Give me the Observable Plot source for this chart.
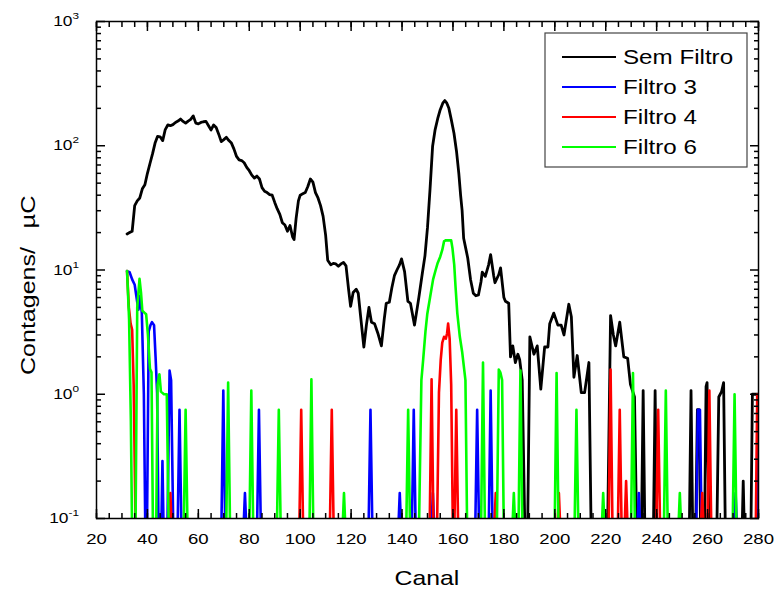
<!DOCTYPE html>
<html><head><meta charset="utf-8">
<script src="https://cdn.jsdelivr.net/npm/d3@7"></script>
<script src="https://cdn.jsdelivr.net/npm/@observablehq/plot@0.6"></script>
<style>body{margin:0;background:#fff}#chart svg{display:block}</style>
</head><body><div id="chart"></div>
<script>
const seriesNames = ["Sem Filtro", "Filtro 3", "Filtro 4", "Filtro 6"];
const seriesColors = ["#000000", "#0000ff", "#ff0000", "#00ff00"];
const xMajorTicks = [20, 40, 60, 80, 100, 120, 140, 160, 180, 200, 220, 240, 260, 280];
const xTickLabels = ["20", "40", "60", "80", "100", "120", "140", "160", "180", "200", "220", "240", "260", "280"];
const yDecadeExponents = [-1, 0, 1, 2, 3];
const yTitle = ["Contagens/", "\u00b5C"];
const xTitle = "Canal";

// [canal, contagens/µC] ; 0 = no counts (below the log axis)
const semFiltro = [[32,19.5],[33,20],[34,20.5],[35,33],[36,36],[37,38],[38,45],[39,48.5],[40,60],[41,72],[42,86],[43,105],[44,119],[45,118],[46,110],[47,135],[48,147],[49,145],[50,148],[51,154],[52,158],[53,164],[54,157],[55,152],[56,158],[57,163],[58,174],[59,152],[60,150],[61,154],[62,156],[63,157],[64,145],[65,134],[66,147],[67,140],[68,124],[69,108],[70,112],[71,117],[72,110],[73,105],[74,94],[75,82],[76,77],[77,76],[78,73],[79,67],[80,63],[81,58],[82,55],[83,57],[84,54],[85,46],[86,43],[87,42],[88,40.5],[89,40],[90,35],[91,31],[92,28],[93,24],[94,23],[95,20.5],[96,22.8],[97,18.5],[97.6,17.6],[98.4,26],[99.3,36],[100,40],[101,41],[102,42],[103,47],[104,54],[105,51],[106,42],[107,38],[108,33],[109,27],[110,19],[110.8,12],[112,11],[113,11.3],[114,11.2],[115,10.7],[116,11.2],[117,11.5],[118,10.8],[119,7],[119.8,5.1],[120.8,6.6],[122,7],[122.8,6.5],[123.7,4.3],[125,2.4],[126,3.6],[127,5],[128,3.8],[129.2,3.7],[130.5,3.1],[131.9,2.45],[133,4],[133.8,5.4],[135,5.5],[136,7.2],[137,9],[138,10],[139,11],[139.8,12.3],[141,9.7],[142.3,5.6],[143.3,5.4],[144.9,3.6],[146,5],[146.6,6],[148,9.5],[149,13],[150,22],[151,45],[152,99],[153,135],[154,165],[155,195],[156,220],[156.8,231],[157.6,220],[158.4,200],[159.4,160],[160.4,126],[161.4,90],[162.3,60],[163,40],[163.6,30],[164.2,18],[165,15],[165.8,12.5],[166.9,8.4],[168,6.5],[169,6.2],[170,6.3],[171,8],[171.5,9.6],[172.7,8.9],[174,11],[174.8,13.3],[176,9],[176.5,7.9],[178,9.2],[178.7,10.4],[180,6],[180.6,5.6],[181.9,5.4],[182.6,2.0],[183.5,2.45],[184.5,1.8],[185.5,2.1],[186.2,1.9],[187.2,1.3],[188.3,0],[189.3,0],[190.2,2.9],[191.8,2.1],[193.1,2.45],[194.5,1.1],[196,2.4],[197.3,2.4],[198,3.7],[199.6,4.5],[201.2,3.6],[202.5,3.6],[203.6,3.0],[205.5,5.3],[206.5,4.2],[207.5,1.37],[208.8,2.05],[210.4,1.03],[211.7,1.03],[213.4,1.8],[214.3,0],[220.7,0],[221.9,4.3],[223,3.0],[223.9,2.45],[225.5,3.8],[227.1,2.0],[228.6,1.95],[229.7,1.2],[231.3,0.95],[232.2,0],[234,0],[234.7,1.07],[235.4,0],[238.7,0],[239.4,1.07],[240.1,0],[252.8,0],[253.5,1.07],[254.2,0],[255.3,0],[256,0.75],[256.6,0.75],[257.3,0],[258.8,0],[259.4,1.15],[259.8,1.24],[260.6,0],[263.6,0],[264.4,0.95],[265.5,1.05],[266.3,1.24],[267,0],[273.5,0],[274,0.2],[274.5,0],[277,0],[277.6,1.0],[280,1.0]];

const filtro3 = [[32,9.8],[33,9.6],[34,8.4],[35,7.6],[36,5.5],[36.5,4.8],[37.1,6.2],[37.8,4.5],[38.6,1],[39.2,0],[39.8,0],[40.5,3.2],[41.2,3.6],[41.8,3.8],[42.6,3.6],[43.2,2],[43.8,1.03],[44.4,0],[45.4,0],[45.9,0.29],[46.4,0],[47.8,0],[48.7,1.55],[49.3,1.3],[50.2,0],[51.8,0],[52.6,0.75],[53.4,0],[69,0],[69.8,1.07],[70.6,0],[77.6,0],[78.3,0.16],[79,0],[83,0],[83.8,0.75],[84.6,0],[126.8,0],[127.6,0.75],[128.4,0],[138.4,0],[139.1,0.16],[139.8,0],[143.8,0],[144.6,0.75],[145.4,0],[151.4,0],[152.1,0.16],[152.8,0],[168.7,0],[169.5,0.75],[170.3,0],[174,0],[174.8,1.07],[175.6,0],[232.3,0],[233,0.16],[233.7,0],[255.5,0],[256.2,0.75],[257,0.75],[257.7,0],[270.3,0],[271,0.16],[271.7,0],[279.2,0],[279.8,1.0],[280,1.0]];

const filtro4 = [[32,9.8],[32.7,5],[33.4,3.7],[34,3.3],[34.6,1.2],[35.4,0],[48.3,0],[49,0.16],[49.7,0],[99.6,0],[100.4,0.75],[101.2,0],[111.6,0],[112.4,0.75],[113.2,0],[150.8,0],[151.6,1.32],[152.4,0],[153.7,0],[154.5,1.03],[155.2,1.9],[155.8,2.6],[156.5,2.9],[157.2,2.8],[157.7,3.1],[158.1,3.7],[158.7,2.8],[159.3,1.2],[160,0],[160.5,0],[161.3,0.75],[162.1,0],[176.1,0],[176.8,0.16],[177.5,0],[200.9,0],[201.6,0.16],[202.3,0],[221.1,0],[221.9,1.58],[222.7,0],[224.7,0],[225.5,0.75],[226.3,0],[227.3,0],[228,0.2],[228.7,0],[239.8,0],[240.6,0.75],[241.4,0],[257.2,0],[257.9,0.16],[258.6,0],[259.9,0],[260.7,1.07],[261.5,0],[278.9,0],[279.5,1.0],[280,1.0]];

const filtro6 = [[32,9.8],[32.8,4],[33.5,0.6],[34,0],[35.3,0],[36,5],[36.9,8.5],[37.5,6.5],[38,4.7],[39,4.5],[39.5,4.4],[40.2,3],[41,1.6],[41.6,1.5],[42.2,0],[43.4,0],[44,1.2],[44.7,1.45],[45.3,1.05],[46.5,1.0],[47.6,1.0],[48.4,0],[54.2,0],[55,0.75],[55.8,0],[70.9,0],[71.7,1.24],[72.5,0],[80,0],[80.8,1.07],[81.6,0],[90.8,0],[91.6,0.75],[92.4,0],[103.6,0],[104.4,1.32],[105.2,0],[116.5,0],[117.2,0.16],[117.9,0],[141.6,0],[142.4,0.75],[143.2,0],[146.6,0],[147.6,1.3],[148.3,1.9],[149.2,3.2],[149.9,4.4],[151,6],[152.2,8.4],[153.2,10],[154,11.4],[155,12.8],[155.8,14.5],[156.5,17],[157,17.3],[159.3,17.3],[159.8,15],[160.5,11],[161,7.4],[161.7,4.5],[162.7,2.9],[163.6,2.2],[164.9,1.3],[165.6,0],[171,0],[171.8,1.8],[172.6,0],[177.2,0],[178,1.58],[178.6,1.5],[179.3,1.3],[180,0],[183.2,0],[183.9,0.16],[184.6,0],[185.7,0],[186.5,1.55],[187.3,0],[199.9,0],[200.7,1.48],[201.5,0],[207.7,0],[208.5,0.75],[209.3,0],[218.3,0],[219,0.16],[219.7,0],[229.9,0],[230.7,1.48],[231.5,0],[242.8,0],[243.6,1.07],[244.4,0],[248.4,0],[249.1,0.16],[249.8,0],[269.8,0],[270.6,1.0],[271.4,0]];

const seriesData = [semFiltro, filtro3, filtro4, filtro6];
const FLOOR = 0.07; // zero counts drawn just below the log axis and clipped
const rows = seriesData.flatMap((s, i) => s.map(([c, v]) => ({canal: c, valor: v > 0 ? v : FLOOR, serie: seriesNames[i]})));

const xMinorTicks = d3.range(20, 281, 5);
const yMajorTicks = yDecadeExponents.map(e => Math.pow(10, e));
const yMinorTicks = yDecadeExponents.slice(0, -1).flatMap(e => d3.range(2, 10).map(m => m * Math.pow(10, e)));
const FONT = "'Liberation Sans', Arial, Helvetica, sans-serif";
const STRETCH = 1.24;

const plot = Plot.plot({
  width: 775, height: 590,
  marginLeft: 96, marginRight: 17, marginTop: 21, marginBottom: 72,
  x: {domain: [20, 280]},
  y: {type: "log", domain: [0.1, 1000]},
  color: {domain: seriesNames, range: seriesColors},
  style: {fontFamily: FONT, background: "white", color: "black"},
  marks: [
    ...seriesNames.map(n => Plot.line(rows.filter(r => r.serie === n), {x: "canal", y: "valor", stroke: "serie", strokeWidth: n === "Sem Filtro" ? 2.8 : 2.6, clip: true, strokeLinejoin: "round"})),
    Plot.frame({stroke: "black", strokeWidth: 1.5}),
    Plot.axisX({anchor: "bottom", ticks: xMinorTicks, tickSize: -5, tickFormat: () => "", label: null, strokeWidth: 1.5}),
    Plot.axisX({anchor: "bottom", ticks: xMajorTicks, tickSize: -9, tickFormat: () => "", label: null, strokeWidth: 1.5}),
    Plot.axisX({anchor: "top", ticks: xMinorTicks, tickSize: -5, tickFormat: () => "", label: null, strokeWidth: 1.5}),
    Plot.axisX({anchor: "top", ticks: xMajorTicks, tickSize: -9, tickFormat: () => "", label: null, strokeWidth: 1.5}),
    Plot.axisX({anchor: "bottom", ticks: xMajorTicks, tickSize: 0, tickPadding: 15, fontSize: 15, tickFormat: d => xTickLabels[xMajorTicks.indexOf(d)], label: null}),
    Plot.axisY({anchor: "left", ticks: yMinorTicks, tickSize: -5, tickFormat: () => "", label: null, strokeWidth: 1.5}),
    Plot.axisY({anchor: "left", ticks: yMajorTicks, tickSize: -9, tickFormat: () => "", label: null, strokeWidth: 1.5}),
    Plot.axisY({anchor: "right", ticks: yMinorTicks, tickSize: -5, tickFormat: () => "", label: null, strokeWidth: 1.5}),
    Plot.axisY({anchor: "right", ticks: yMajorTicks, tickSize: -9, tickFormat: () => "", label: null, strokeWidth: 1.5})
  ]
});

const svg = d3.select(plot);
// stretch tick label glyphs horizontally like the reference
svg.selectAll('g[aria-label="x-axis tick label"] text').each(function() {
  const t = this.getAttribute("transform") || "";
  this.setAttribute("transform", t + ` scale(${STRETCH},1)`);
});

const ys = plot.scale("y");
const xs = plot.scale("x");
const ann = svg.append("g").attr("font-family", FONT).attr("fill", "black");

// y tick labels 10^e
yDecadeExponents.forEach(e => {
  const y = ys.apply(Math.pow(10, e));
  const t = ann.append("text").attr("text-anchor", "end")
    .attr("transform", `translate(79,${y + 5}) scale(${STRETCH},1)`)
    .attr("font-size", 14);
  t.append("tspan").text("10");
  t.append("tspan").attr("dy", -7).attr("font-size", 9.5).text(String(e));
});

// y title
ann.append("text").attr("text-anchor", "middle").attr("font-size", 21)
  .attr("transform", "translate(35,311) rotate(-90)")
  .attr("textLength", 128).attr("lengthAdjust", "spacingAndGlyphs").text(yTitle[0]);
ann.append("text").attr("text-anchor", "middle").attr("font-size", 21)
  .attr("transform", "translate(35,212) rotate(-90)")
  .attr("textLength", 33).attr("lengthAdjust", "spacingAndGlyphs").text(yTitle[1]);

// x title
ann.append("text").attr("text-anchor", "middle").attr("font-size", 20)
  .attr("transform", `translate(${(xs.range[0] + xs.range[1]) / 2},585) scale(${STRETCH},1)`).text(xTitle);

// legend
const lg = svg.append("g").attr("font-family", FONT);
lg.append("rect").attr("x", 545).attr("y", 33).attr("width", 202).attr("height", 134)
  .attr("fill", "white").attr("stroke", "#444").attr("stroke-width", 1.2);
seriesNames.forEach((n, i) => {
  const y = 57 + i * 30;
  lg.append("line").attr("x1", 562).attr("x2", 616).attr("y1", y).attr("y2", y)
    .attr("stroke", seriesColors[i]).attr("stroke-width", 2.2);
  lg.append("text").attr("font-size", 19.5).attr("fill", "black").attr("text-anchor", "start")
    .attr("transform", `translate(623,${y + 7.3}) scale(${STRETCH},1)`).text(n);
});

document.getElementById("chart").appendChild(plot);
</script>
</body></html>
